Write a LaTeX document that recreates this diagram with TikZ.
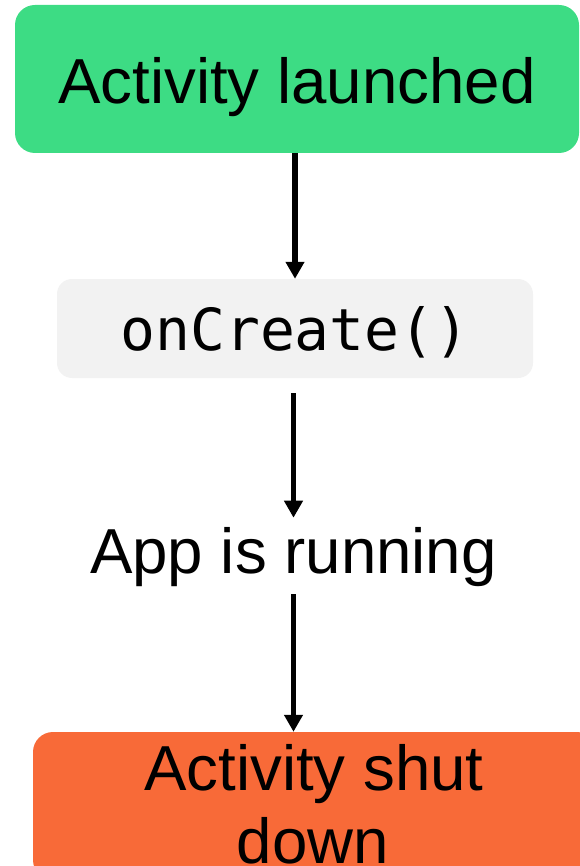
\documentclass[tikz,border=0pt]{standalone}
\usepackage{fontspec}
\setmainfont{Liberation Sans}
\newfontfamily\monof{DejaVu Sans Mono}
\usetikzlibrary{arrows.meta}
\definecolor{andgreen}{HTML}{3DDC84}
\definecolor{boxgray}{HTML}{F2F2F2}
\definecolor{shutorange}{HTML}{F86A38}
\begin{document}
\begin{tikzpicture}[x=1pt,y=-1pt,
  bigtext/.style={font=\fontsize{63.6}{73}\selectfont},
  greenbox/.style={fill=andgreen, rounded corners=20pt, minimum width=564pt, minimum height=148pt, inner sep=0pt, text height=50pt, text depth=0pt, bigtext},
  graybox/.style={fill=boxgray, rounded corners=15pt, minimum width=476pt, minimum height=99pt, inner sep=0pt, text height=43pt, text depth=0pt, font=\monof\fontsize{58}{60}\selectfont},
  orangebox/.style={fill=shutorange, rounded corners=20pt, minimum width=564pt, minimum height=148pt, inner sep=0pt},
  plaintext/.style={bigtext, inner sep=0pt, anchor=base},
  arr/.style={line width=5.5pt, -{Triangle[width=18pt,length=17pt]}}
]
\useasboundingbox (0,0) rectangle (580,866);
\node[graybox] (create) at (295,328.5) {onCreate()\hspace{6pt}};
\node[greenbox] (launched) at (297,79) {Activity launched};
\node[plaintext] (running) at (293.5,573) {App is running};
\node[orangebox] (shut) at (315,806) {};
\node[plaintext] (shutA) at (314,790) {Activity shut};
\node[plaintext] (shutB) at (313,863) {down};
\draw[arr] (launched.south -| create.north) -- (create.north);
\draw[arr, shorten <=15pt, shorten >=9pt] (create.south -| running.north) -- (running.north);
\draw[arr, shorten <=8pt] (running.south) -- (running.south |- shut.north);
\end{tikzpicture}
\end{document}
